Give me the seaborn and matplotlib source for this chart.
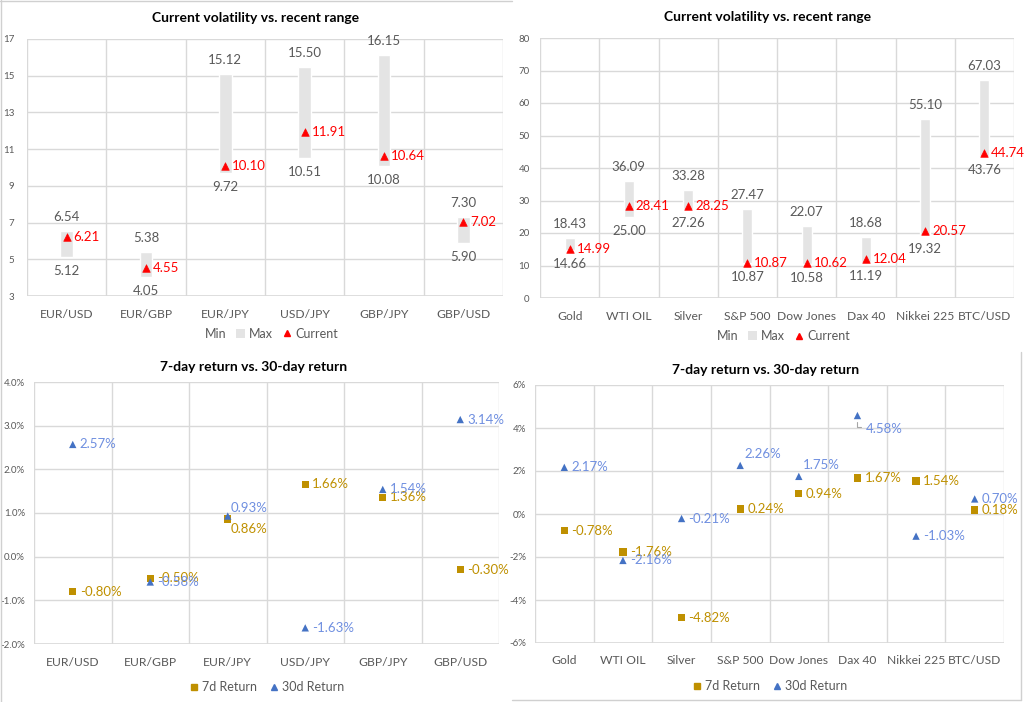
import numpy as np
import pandas as pd
import matplotlib
matplotlib.use("Agg")
import matplotlib.pyplot as plt
import seaborn as sns
from matplotlib.lines import Line2D
from matplotlib.patches import Patch

# ---- data ----
fx_pairs = ["EUR/USD", "EUR/GBP", "EUR/JPY", "USD/JPY", "GBP/JPY", "GBP/USD"]
fx_min = [5.12, 4.05, 9.72, 10.51, 10.08, 5.90]
fx_max = [6.54, 5.38, 15.12, 15.50, 16.15, 7.30]
fx_cur = [6.21, 4.55, 10.10, 11.91, 10.64, 7.02]

assets = ["Gold", "WTI OIL", "Silver", "S&P 500", "Dow Jones", "Dax 40", "Nikkei 225", "BTC/USD"]
as_min = [14.66, 25.00, 27.26, 10.87, 10.58, 11.19, 19.32, 43.76]
as_max = [18.43, 36.09, 33.28, 27.47, 22.07, 18.68, 55.10, 67.03]
as_cur = [14.99, 28.41, 28.25, 10.87, 10.62, 12.04, 20.57, 44.74]

fx_ret7 = [-0.80, -0.50, 0.86, 1.66, 1.36, -0.30]
fx_ret30 = [2.57, -0.58, 0.93, -1.63, 1.54, 3.14]

as_ret7 = [-0.78, -1.76, -4.82, 0.24, 0.94, 1.67, 1.54, 0.18]
as_ret30 = [2.17, -2.16, -0.21, 2.26, 1.75, 4.58, -1.03, 0.70]

GRAY_BAR = "#e4e4e4"
RED = "#ff0000"
GOLD = "#bf9000"
BLUE = "#4472c4"
BLUE_TXT = "#6f8fe0"
TXT = "#595959"
GRID = "#d9d9d9"

sns.set_theme(style="white")
plt.rcParams["font.family"] = ["Lato", "DejaVu Sans"]

fig = plt.figure(figsize=(10.24, 7.02), dpi=100)
W, H = 1024, 702


def px_axes(x0, y0, x1, y1):
    return fig.add_axes([x0 / W, 1 - y1 / H, (x1 - x0) / W, (y1 - y0) / H])


def style_axes(ax, n, ylim, yticks, fmt, ypad):
    ax.set_xlim(-0.5, n - 0.5)
    ax.set_ylim(*ylim)
    ax.set_yticks(yticks)
    ax.set_yticklabels([fmt(v) for v in yticks], fontsize=7, color=TXT)
    ax.set_xticks(range(n))
    ax.set_xticks(np.arange(-0.5, n, 1.0), minor=True)
    ax.tick_params(axis="x", which="both", length=0, labelsize=8.7, labelcolor=TXT, pad=9)
    ax.tick_params(axis="y", length=0, pad=ypad)
    ax.grid(False)
    ax.grid(True, axis="y", which="major", color=GRID, lw=1)
    ax.grid(True, axis="x", which="minor", color=GRID, lw=1)
    for s in ax.spines.values():
        s.set_visible(False)
    ax.axhline(ylim[0], color=GRID, lw=1.2, zorder=1)
    ax.set_xlabel("")
    ax.set_ylabel("")


def range_panel(ax, cats, mins, maxs, cur, ylim, yticks, width, gap, ypad):
    df = pd.DataFrame({"cat": cats, "min": mins, "max": maxs, "cur": cur})
    df["span"] = df["max"] - df["min"]
    ax.bar(np.arange(len(cats)), df["span"], bottom=df["min"], width=width,
           color=GRAY_BAR, zorder=2)
    sns.scatterplot(data=df, x="cat", y="cur", marker="^", s=30, color=RED,
                    edgecolor=RED, ax=ax, zorder=3, legend=False)
    for i, r in df.iterrows():
        ax.annotate(f"{r['max']:.2f}", (i, r["max"]), xytext=(0, gap), textcoords="offset points",
                    ha="center", va="center", fontsize=9.5, color=TXT)
        ax.annotate(f"{r['min']:.2f}", (i, r["min"]), xytext=(0, -gap), textcoords="offset points",
                    ha="center", va="center", fontsize=9.5, color=TXT)
        ax.annotate(f"{r['cur']:.2f}", (i, r["cur"]), xytext=(5, 0), textcoords="offset points",
                    ha="left", va="center", fontsize=9.5, color=RED)
    style_axes(ax, len(cats), ylim, yticks, lambda v: f"{v:g}", ypad)
    handles = [Line2D([], [], lw=0, marker=None),
               Patch(facecolor=GRAY_BAR, edgecolor="none"),
               Line2D([], [], lw=0, marker="^", color=RED, markersize=4.5)]
    ax.legend(handles, ["Min", "Max", "Current"], loc="upper center", bbox_to_anchor=(0.5, -0.08),
              ncol=3, frameon=False, fontsize=9, labelcolor=TXT, handlelength=0.7,
              handletextpad=0.3, columnspacing=0.8)


def return_panel(ax, cats, r7, r30, ylim, yticks, fmt, offsets30, offsets7, ypad):
    df = pd.DataFrame({"cat": cats, "7d Return": r7, "30d Return": r30})
    long = df.melt(id_vars="cat", var_name="series", value_name="ret")
    sns.scatterplot(data=long, x="cat", y="ret", hue="series", style="series",
                    markers={"7d Return": "s", "30d Return": "^"},
                    palette={"7d Return": GOLD, "30d Return": BLUE},
                    s=28, edgecolor="none", ax=ax, zorder=3, legend=False)
    for i, v in enumerate(r7):
        dx, dy = offsets7.get(i, (5, 0))
        ax.annotate(f"{v:.2f}%", (i, v), xytext=(dx, dy), textcoords="offset points",
                    ha="left", va="center", fontsize=9.5, color=GOLD)
    for i, v in enumerate(r30):
        dx, dy = offsets30.get(i, (5, 0))
        ax.annotate(f"{v:.2f}%", (i, v), xytext=(dx, dy), textcoords="offset points",
                    ha="left", va="center", fontsize=9.5, color=BLUE_TXT)
    style_axes(ax, len(cats), ylim, yticks, fmt, ypad)
    handles = [Line2D([], [], lw=0, marker="s", color=GOLD, markersize=4.5),
               Line2D([], [], lw=0, marker="^", color=BLUE, markersize=4.5)]
    ax.legend(handles, ["7d Return", "30d Return"], loc="upper center", bbox_to_anchor=(0.5, -0.1),
              ncol=2, frameon=False, fontsize=9, labelcolor=TXT, handlelength=0.7,
              handletextpad=0.3, columnspacing=1.0)


# top-left
ax1 = px_axes(27, 39, 503, 296)
range_panel(ax1, fx_pairs, fx_min, fx_max, fx_cur, (3, 17), list(range(3, 18, 2)), 0.16, 10, 9)
# top-right
ax2 = px_axes(540, 38, 1014, 298)
range_panel(ax2, assets, as_min, as_max, as_cur, (0, 80), list(range(0, 81, 10)), 0.17, 10, 7.5)
# bottom-left
ax3 = px_axes(34, 382, 499, 644)
return_panel(ax3, fx_pairs, fx_ret7, fx_ret30, (-2, 4), list(range(-2, 5)),
             lambda v: f"{v:.1f}%", {2: (2, 6)}, {2: (2, -7)}, 6.5)
# bottom-right
ax4 = px_axes(535, 385, 1004, 643)
return_panel(ax4, assets, as_ret7, as_ret30, (-6, 6), list(range(-6, 7, 2)),
             lambda v: f"{v:.0f}%", {3: (3, 8), 4: (3, 8), 5: (6, -10)}, {}, 6.5)
ax4.annotate("", xy=(5, 4.4), xytext=(5.1, 4.05),
             arrowprops=dict(arrowstyle="-", color="#a6a6a6", lw=0.8,
                             connectionstyle="angle,angleA=0,angleB=90"))

# titles
fig.text(256 / W, 1 - 18 / H, "Current volatility vs. recent range", ha="center", va="center",
         fontsize=10, fontweight="bold", color="black")
fig.text(768 / W, 1 - 17 / H, "Current volatility vs. recent range", ha="center", va="center",
         fontsize=10, fontweight="bold", color="black")
fig.text(254 / W, 1 - 367 / H, "7-day return vs. 30-day return", ha="center", va="center",
         fontsize=10, fontweight="bold", color="black")
fig.text(766 / W, 1 - 370 / H, "7-day return vs. 30-day return", ha="center", va="center",
         fontsize=10, fontweight="bold", color="black")

# panel borders
bc = "#d0d0d0"
fig.add_artist(Line2D([0, 512 / W], [1 - 0.5 / H, 1 - 0.5 / H], color=bc, lw=1))
fig.add_artist(Line2D([0.5 / W, 0.5 / W], [0, 1], color=bc, lw=1))
fig.add_artist(Line2D([1021 / W, 1021 / W], [1 - 700 / H, 1 - 352 / H], color=bc, lw=1))
fig.add_artist(Line2D([512 / W, 1021 / W], [1 - 700 / H, 1 - 700 / H], color=bc, lw=1))

fig.savefig("out.png", dpi=100, facecolor="white")
